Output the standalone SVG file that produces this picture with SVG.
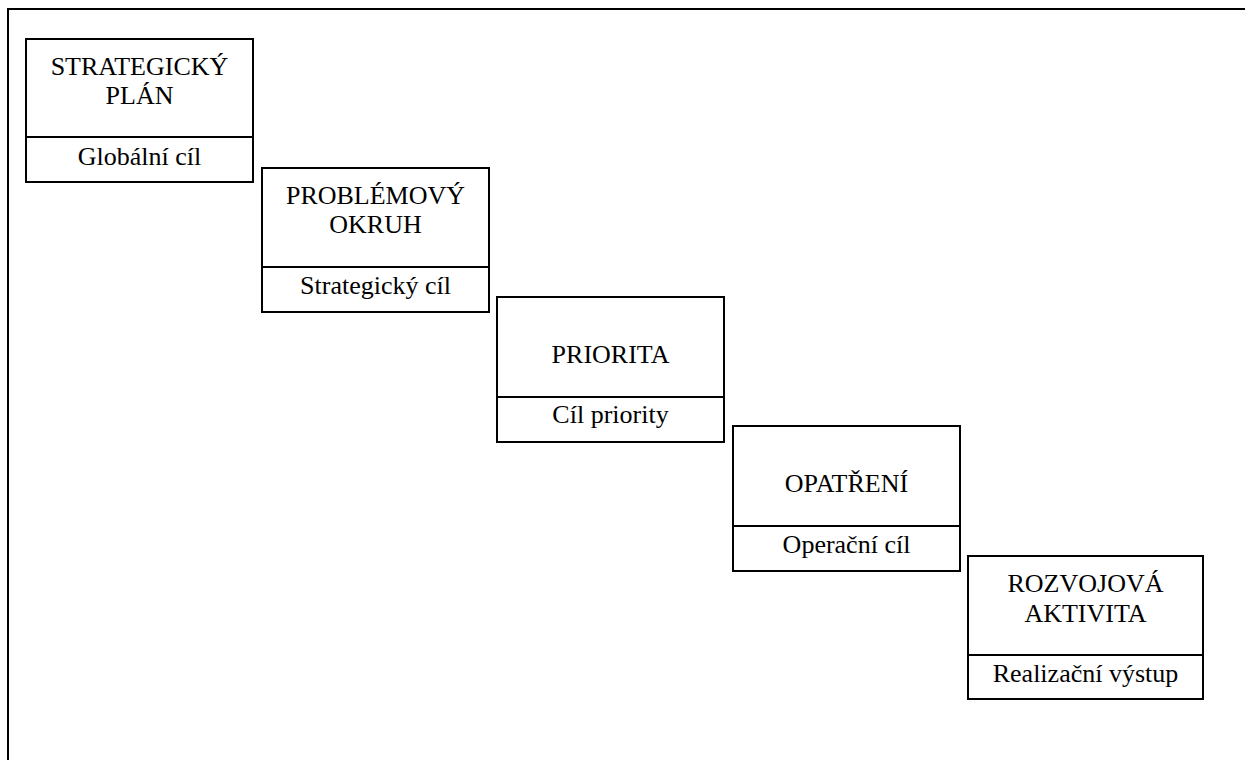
<svg xmlns="http://www.w3.org/2000/svg" width="1245" height="760" viewBox="0 0 1245 760">
<style>
.box{fill:#fff;stroke:#000;stroke-width:2}
.div{stroke:#000;stroke-width:2}
.t{font-family:"Liberation Serif","Times New Roman",serif;font-size:26px;fill:#000;text-anchor:middle}
</style>
<rect width="1245" height="760" fill="#fff"/>
<path d="M8 770 V9 H1255" fill="none" stroke="#000" stroke-width="2"/>
<g id="connectors"></g>
<g id="n1">
<rect class="box" x="26" y="39" width="227" height="143"/>
<line class="div" x1="26" y1="137" x2="253" y2="137"/>
<text class="t" x="139.5" y="75">STRATEGICKÝ</text>
<text class="t" x="139.5" y="104">PLÁN</text>
<text class="t" x="139.5" y="165">Globální cíl</text>
</g>
<g id="n2">
<rect class="box" x="262" y="168" width="227" height="144"/>
<line class="div" x1="262" y1="267" x2="489" y2="267"/>
<text class="t" x="375.5" y="204">PROBLÉMOVÝ</text>
<text class="t" x="375.5" y="233">OKRUH</text>
<text class="t" x="375.5" y="294">Strategický cíl</text>
</g>
<g id="n3">
<rect class="box" x="497" y="297" width="227" height="145"/>
<line class="div" x1="497" y1="397" x2="724" y2="397"/>
<text class="t" x="610.5" y="363">PRIORITA</text>
<text class="t" x="610.5" y="423">Cíl priority</text>
</g>
<g id="n4">
<rect class="box" x="733" y="426" width="227" height="145"/>
<line class="div" x1="733" y1="526" x2="960" y2="526"/>
<text class="t" x="846.5" y="492">OPATŘENÍ</text>
<text class="t" x="846.5" y="553">Operační cíl</text>
</g>
<g id="n5">
<rect class="box" x="968" y="556" width="235" height="143"/>
<line class="div" x1="968" y1="655" x2="1203" y2="655"/>
<text class="t" x="1085.5" y="592">ROZVOJOVÁ</text>
<text class="t" x="1085.5" y="622">AKTIVITA</text>
<text class="t" x="1085.5" y="682">Realizační výstup</text>
</g>
</svg>
